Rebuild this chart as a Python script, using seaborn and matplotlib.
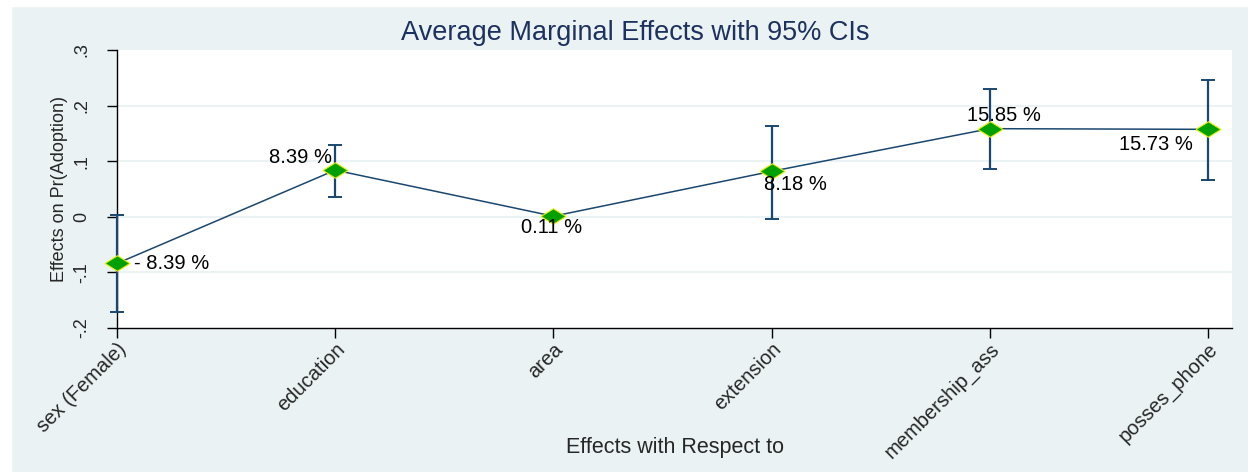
import numpy as np
import pandas as pd
import matplotlib
matplotlib.use("Agg")
import matplotlib.pyplot as plt
import seaborn as sns
from matplotlib.patches import Rectangle

# data
effects = ["sex (Female)", "education", "area", "extension", "membership_ass", "posses_phone"]
margins = [-0.0839, 0.0839, 0.0011, 0.0818, 0.1585, 0.1573]
ci_low = [-0.171, 0.036, -0.001, -0.004, 0.086, 0.066]
ci_high = [0.004, 0.130, 0.003, 0.164, 0.229, 0.246]
point_labels = ["- 8.39 %", "8.39 %", "0.11 %", "8.18 %", "15.85 %", "15.73 %"]
# label offsets from the marker (pixels, x right / y up), like Stata mlabpos
label_dx = [17, -35, -2, 24, 14, -52]
label_dy = [0, 13, -11, -13, 13, -15]
label_ha = ["left", "center", "center", "center", "center", "center"]

yticks = [-0.2, -0.1, 0, 0.1, 0.2, 0.3]
ytick_labels = ["-.2", "-.1", "0", ".1", ".2", ".3"]

df = pd.DataFrame({"pos": np.arange(len(effects)), "margin": margins})

bg = "#EAF2F3"
navy = "#1a476f"

sns.set_style("white")
plt.rcParams["font.family"] = ["Liberation Sans", "DejaVu Sans"]

fig = plt.figure(figsize=(12.48, 4.72), dpi=100, facecolor=bg)
# thin white margins at the left/top edge of the exported picture
fig.patches.append(Rectangle((0, 0), 11 / 1248, 1, transform=fig.transFigure, color="white", zorder=-1))
fig.patches.append(Rectangle((0, 1 - 6 / 472), 1, 6 / 472, transform=fig.transFigure, color="white", zorder=-1))

ax = fig.add_axes([117 / 1248, 1 - 328 / 472, 1115 / 1248, 278 / 472])
ax.set_facecolor("white")

diamond = [(-1, 0), (0, 0.62), (1, 0), (0, -0.62), (-1, 0)]

ax.errorbar(df["pos"], margins,
            yerr=[np.array(margins) - np.array(ci_low), np.array(ci_high) - np.array(margins)],
            fmt="none", ecolor=navy, elinewidth=1.6, capsize=5, capthick=1.4, zorder=3, clip_on=False)
sns.lineplot(data=df, x="pos", y="margin", color=navy, linewidth=1.1, marker=diamond,
             markersize=18, markerfacecolor="#00A000", markeredgecolor="#E8F000",
             markeredgewidth=0.8, ax=ax, zorder=4, clip_on=False)

for i in range(len(effects)):
    ax.annotate(point_labels[i], (i, margins[i]),
                xytext=(label_dx[i] * 0.72, label_dy[i] * 0.72), textcoords="offset points",
                ha=label_ha[i], va="center", fontsize=14.5, color="black", zorder=5)

ax.set_xlim(0, 5.11)
ax.set_ylim(-0.2, 0.3)
ax.set_yticks(yticks)
ax.set_yticklabels(ytick_labels, rotation=90, va="center", fontsize=13)
ax.set_xticks(df["pos"])
ax.set_xticklabels(effects, rotation=45, ha="right", va="top", rotation_mode="anchor", fontsize=14.5)

for y in yticks[1:-1]:
    ax.axhline(y, color=bg, linewidth=1.5, zorder=0)

for s in ["top", "right"]:
    ax.spines[s].set_visible(False)
for s in ["left", "bottom"]:
    ax.spines[s].set_color("black")
    ax.spines[s].set_linewidth(1.0)

ax.tick_params(axis="both", direction="out", length=7.5, width=1, color="black", left=True, bottom=True)
ax.tick_params(axis="y", pad=12)
ax.tick_params(axis="x", pad=1)

ax.set_xlabel("Effects with Respect to", fontsize=15.5, va="center")
ax.xaxis.set_label_coords(0.5, -(448 - 328) / 278)
ax.set_ylabel("Effects on Pr(Adoption)", fontsize=13, va="center")
ax.yaxis.set_label_coords(-(117 - 60) / 1115, 0.5)
fig.text(635 / 1248, 1 - 33 / 472, "Average Marginal Effects with 95% CIs",
         ha="center", va="center", fontsize=19.5, color="#1c3160")

fig.savefig("out.png", dpi=100, facecolor=fig.get_facecolor())
